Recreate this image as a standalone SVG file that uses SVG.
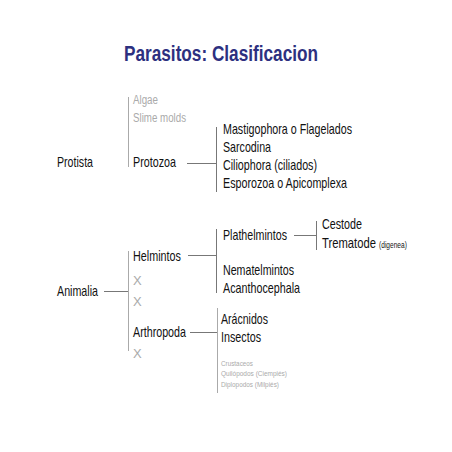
<svg xmlns="http://www.w3.org/2000/svg" width="452" height="452" viewBox="0 0 452 452">
<style>
text{font-family:"Liberation Sans",Arial,sans-serif;}
.t{font-size:14.5px;fill:#111;}
.g{font-size:12px;fill:#aaa;}
.x{font-size:13px;fill:#aaa;}
.s{font-size:8px;fill:#aaa;}
.title{font-size:22px;font-weight:bold;fill:#2d3080;}
.c{stroke:#777;stroke-width:1;fill:none;}
.cg{stroke:#aaa;stroke-width:1;fill:none;}
</style>
<rect width="452" height="452" fill="#fff"/>
<text class="title" x="124" y="61" textLength="194" lengthAdjust="spacingAndGlyphs">Parasitos: Clasificacion</text>
<g id="connectors">
<line class="cg" x1="128.5" y1="97" x2="128.5" y2="167"/>
<line class="c" x1="187" y1="163.5" x2="216" y2="163.5"/>
<line class="c" x1="216.5" y1="127" x2="216.5" y2="192"/>
<line class="c" x1="104" y1="291.5" x2="128" y2="291.5"/>
<line class="cg" x1="128.5" y1="251" x2="128.5" y2="351"/>
<line class="c" x1="188" y1="255.5" x2="216" y2="255.5"/>
<line class="c" x1="216.5" y1="229" x2="216.5" y2="293"/>
<line class="c" x1="294" y1="235.5" x2="316" y2="235.5"/>
<line class="c" x1="316.5" y1="221" x2="316.5" y2="250"/>
<line class="c" x1="190" y1="332.5" x2="217" y2="332.5"/>
<line class="cg" x1="217.5" y1="308" x2="217.5" y2="393"/>
</g>
<g id="protista"><text class="t" x="57" y="167" textLength="36" lengthAdjust="spacingAndGlyphs">Protista</text></g>
<g id="algae"><text class="g" x="133" y="104" textLength="25" lengthAdjust="spacingAndGlyphs">Algae</text></g>
<g id="slime-molds"><text class="g" x="133" y="122" textLength="53" lengthAdjust="spacingAndGlyphs">Slime molds</text></g>
<g id="protozoa"><text class="t" x="133" y="167" textLength="43" lengthAdjust="spacingAndGlyphs">Protozoa</text></g>
<g id="protozoa-groups">
<text class="t" x="223" y="134" textLength="129" lengthAdjust="spacingAndGlyphs">Mastigophora o Flagelados</text>
<text class="t" x="223" y="152" textLength="48" lengthAdjust="spacingAndGlyphs">Sarcodina</text>
<text class="t" x="223" y="170" textLength="94" lengthAdjust="spacingAndGlyphs">Ciliophora (ciliados)</text>
<text class="t" x="223" y="188" textLength="124" lengthAdjust="spacingAndGlyphs">Esporozoa o Apicomplexa</text>
</g>
<g id="animalia"><text class="t" x="57" y="296" textLength="41" lengthAdjust="spacingAndGlyphs">Animalia</text></g>
<g id="helmintos"><text class="t" x="133" y="261" textLength="48" lengthAdjust="spacingAndGlyphs">Helmintos</text></g>
<g id="x1"><text class="x" x="133" y="285">X</text></g>
<g id="x2"><text class="x" x="133" y="306">X</text></g>
<g id="arthropoda"><text class="t" x="133" y="337" textLength="53" lengthAdjust="spacingAndGlyphs">Arthropoda</text></g>
<g id="x3"><text class="x" x="133" y="358">X</text></g>
<g id="plathelmintos"><text class="t" x="223" y="240" textLength="64" lengthAdjust="spacingAndGlyphs">Plathelmintos</text></g>
<g id="nematelmintos"><text class="t" x="223" y="275" textLength="71" lengthAdjust="spacingAndGlyphs">Nematelmintos</text></g>
<g id="acanthocephala"><text class="t" x="223" y="293" textLength="77" lengthAdjust="spacingAndGlyphs">Acanthocephala</text></g>
<g id="cestode"><text class="t" x="322" y="229" textLength="40" lengthAdjust="spacingAndGlyphs">Cestode</text></g>
<g id="trematode"><text class="t" transform="translate(322 248) scale(0.775 1)">Trematode <tspan style="font-size:8.5px">(digenea)</tspan></text></g>
<g id="aracnidos"><text class="t" x="221" y="324" textLength="47" lengthAdjust="spacingAndGlyphs">Arácnidos</text></g>
<g id="insectos"><text class="t" x="221" y="342" textLength="40" lengthAdjust="spacingAndGlyphs">Insectos</text></g>
<g id="minor-arthropods">
<text class="s" x="221" y="366" textLength="32" lengthAdjust="spacingAndGlyphs">Crustaceos</text>
<text class="s" x="221" y="376" textLength="66" lengthAdjust="spacingAndGlyphs">Quilópodos (Ciempiés)</text>
<text class="s" x="221" y="387" textLength="58" lengthAdjust="spacingAndGlyphs">Diplopodos (Milpiés)</text>
</g>
</svg>
